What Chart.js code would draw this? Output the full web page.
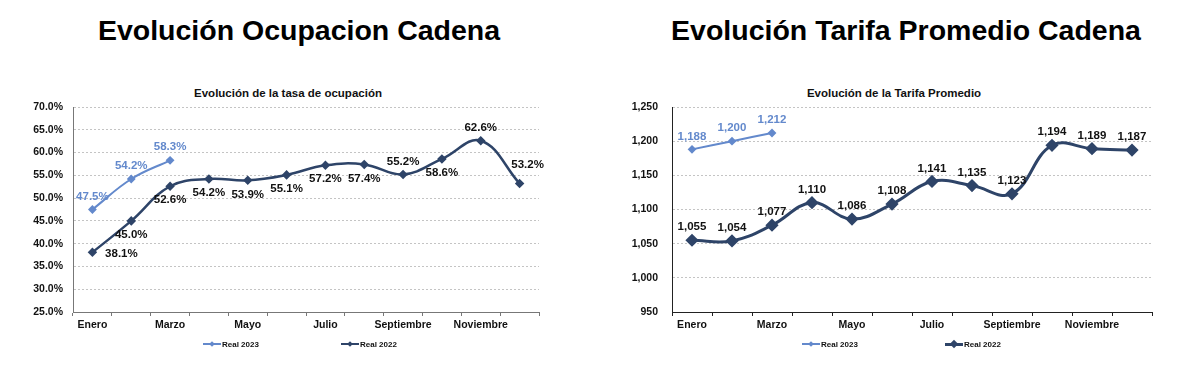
<!DOCTYPE html>
<html>
<head>
<meta charset="utf-8">
<script src="https://cdn.jsdelivr.net/npm/chart.js@4.4.0/dist/chart.umd.min.js"></script>
<style>
body { margin: 0; width: 1192px; height: 374px; background: #fff; overflow: hidden;
	font-family: 'Liberation Sans', Arial, sans-serif; position: relative; }
.big { position: absolute; top: 13px; line-height: 34px; font-weight: bold; font-size: 28.5px;
	color: #000; white-space: nowrap; transform: translateX(-50%); }
.sub { position: absolute; top: 86px; line-height: 14px; font-weight: bold; font-size: 11.5px;
	color: #111; white-space: nowrap; transform: translateX(-50%); }
.box { position: absolute; top: 0; width: 596px; height: 374px; }
.leg { position: absolute; top: 339px; height: 10px; font-weight: bold; font-size: 8px;
	color: #111; display: flex; align-items: center; white-space: nowrap; }
.leg i { display: inline-block; position: relative; width: 18px; height: 2px; margin-right: 1px; }
.leg i b { position: absolute; left: 50%; top: 50%; width: 4px; height: 4px;
	transform: translate(-50%, -50%) rotate(45deg); }
</style>
</head>
<body>
<div class="big" style="left:299px">Evolución Ocupacion Cadena</div>
<div class="big" style="left:906px">Evolución Tarifa Promedio Cadena</div>
<div class="sub" style="left:288px">Evolución de la tasa de ocupación</div>
<div class="sub" style="left:894px">Evolución de la Tarifa Promedio</div>
<div class="box" style="left:0"><canvas id="occ"></canvas></div>
<div class="box" style="left:596px"><canvas id="rate"></canvas></div>
<div class="leg" style="left:203px"><i style="background:#6389cc"><b style="background:#6389cc"></b></i>Real 2023</div>
<div class="leg" style="left:341px"><i style="background:#2e4468"><b style="background:#2e4468"></b></i>Real 2022</div>
<div class="leg" style="left:802px"><i style="background:#6389cc"><b style="background:#6389cc"></b></i>Real 2023</div>
<div class="leg" style="left:945px"><i style="background:#2e4468;height:3px"><b style="background:#2e4468;width:6px;height:6px"></b></i>Real 2022</div>
<script>
/* Months on the x axis; only every other one gets a label. */
const months = ['Enero', 'Febrero', 'Marzo', 'Abril', 'Mayo', 'Junio',
	'Julio', 'Agosto', 'Septiembre', 'Octubre', 'Noviembre', 'Diciembre'];

/* Occupancy rate (%) per month. */
const occ2023 = [47.5, 54.2, 58.3];
const occ2022 = [38.1, 45.0, 52.6, 54.2, 53.9, 55.1, 57.2, 57.4, 55.2, 58.6, 62.6, 53.2];
const occAxis = [25, 70, 5];

/* Average rate per month. */
const rate2023 = [1188, 1200, 1212];
const rate2022 = [1055, 1054, 1077, 1110, 1086, 1108, 1141, 1135, 1123, 1194, 1189, 1187];
const rateAxis = [950, 1250, 50];

/* Where each value label sits relative to its point. */
const occPlace2023 = ['above', 'above', 'above'];
const occPlace2022 = ['right', 'below', 'below', 'below', 'below', 'below',
	'below', 'below', 'above', 'below', 'above', 'aboveRight'];
const ratePlace2023 = ['above', 'above', 'above'];
const ratePlace2022 = Array(12).fill('above');

const light = '#6389cc';
const dark = '#2e4468';
const font = "'Liberation Sans', Arial, sans-serif";

const offsets = {
	above: [0, -13],
	below: [0, 14],
	right: [29, 2],
	aboveRight: [8, -19],
};

/*
 * Draw the value of every point next to it, following the "place" list
 * attached to the dataset.
 */
const valueLabels = {
	id: 'valueLabels',
	afterDatasetsDraw(chart) {
		const ctx = chart.ctx;
		ctx.save();
		ctx.font = 'bold 11.5px ' + font;
		ctx.textAlign = 'center';
		ctx.textBaseline = 'middle';
		chart.data.datasets.forEach((ds, i) => {
			const meta = chart.getDatasetMeta(i);
			ctx.fillStyle = ds.labelColor;
			meta.data.forEach((pt, j) => {
				const off = offsets[ds.place[j]];
				ctx.fillText(ds.format(ds.data[j]), pt.x + off[0], pt.y + off[1]);
			});
		});
		ctx.restore();
	}
};

function drawChart(id, axis, d2023, d2022, place2023, place2022, fmtTick, fmtLabel, pad, big)
{
	new Chart(document.getElementById(id), {
		type: 'line',
		data: {
			labels: months,
			datasets: [{
				label: 'Real 2023',
				data: d2023,
				borderColor: light,
				backgroundColor: light,
				borderWidth: 2,
				pointStyle: 'rectRot',
				pointRadius: 3,
				tension: 0.4,
				labelColor: light,
				place: place2023,
				format: fmtLabel,
			}, {
				label: 'Real 2022',
				data: d2022,
				borderColor: dark,
				backgroundColor: dark,
				borderWidth: big ? 3 : 2.5,
				pointStyle: 'rectRot',
				pointRadius: big ? 4.5 : 3,
				tension: 0.4,
				labelColor: '#111',
				place: place2022,
				format: fmtLabel,
			}]
		},
		options: {
			responsive: false,
			animation: false,
			layout: {
				autoPadding: false,
				padding: { left: pad[0], right: pad[1], top: 107, bottom: 42 },
			},
			plugins: {
				legend: { display: false },
				tooltip: { enabled: false },
			},
			scales: {
				x: {
					offset: true,
					afterFit: (s) => { s.height = 20; },
					grid: {
						offset: true,
						drawOnChartArea: false,
						drawTicks: true,
						tickLength: 4,
						color: big ? '#222' : '#777',
					},
					border: { color: big ? '#222' : '#777', width: 1 },
					ticks: {
						autoSkip: false,
						maxRotation: 0,
						padding: 3,
						color: '#111',
						font: { family: font, size: 10.5, weight: 'bold' },
						callback: (v, i) => (i % 2 === 0 ? months[i] : ''),
					},
				},
				y: {
					min: axis[0],
					max: axis[1],
					afterFit: (s) => { s.width = 40; },
					grid: {
						drawTicks: false,
						color: '#c4c4c4',
					},
					border: { color: big ? '#222' : '#777', width: 1, dash: [2, 2] },
					ticks: {
						stepSize: axis[2],
						padding: pad[2],
						color: '#111',
						font: { family: font, size: 10.5, weight: 'bold' },
						callback: fmtTick,
					},
				},
			}
		},
		plugins: [valueLabels],
	});
}

window.addEventListener('load', () => {
	for (const c of document.querySelectorAll('canvas')) {
		c.width = 596;
		c.height = 374;
	}
	drawChart('occ', occAxis, occ2023, occ2022, occPlace2023, occPlace2022,
		(v) => v.toFixed(1) + '%',
		(v) => v.toFixed(1) + '%',
		[33, 57, 10], false);
	drawChart('rate', rateAxis, rate2023, rate2022, ratePlace2023, ratePlace2022,
		(v) => v.toLocaleString('en-US'),
		(v) => v.toLocaleString('en-US'),
		[36, 40, 14], true);
});
</script>
</body>
</html>
